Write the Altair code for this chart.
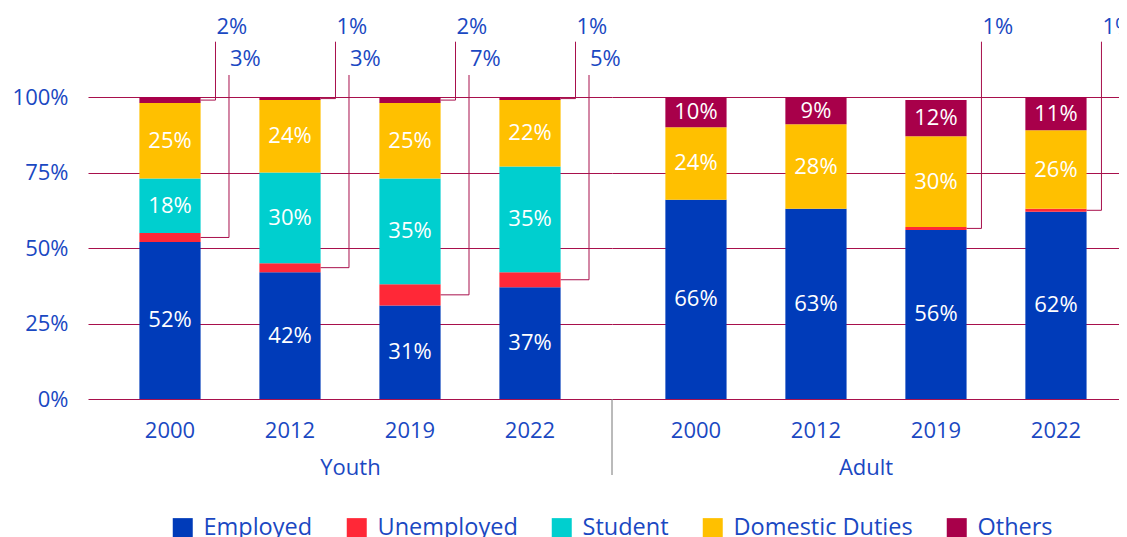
import altair as alt
import pandas as pd

# ---- data ----
groups = ["Youth", "Youth", "Youth", "Youth", "Adult", "Adult", "Adult", "Adult"]
years = ["2000", "2012", "2019", "2022", "2000", "2012", "2019", "2022"]
categories = ["Employed", "Unemployed", "Student", "Domestic Duties", "Others"]
employed = [52, 42, 31, 37, 66, 63, 56, 62]
unemployed = [3, 3, 7, 5, 0, 0, 1, 1]
student = [18, 30, 35, 35, 0, 0, 0, 0]
domestic = [25, 24, 25, 22, 24, 28, 30, 26]
others = [2, 1, 2, 1, 10, 9, 12, 11]
y_ticks = [0, 25, 50, 75, 100]
group_order = ["Youth", "Adult"]
year_order = ["2000", "2012", "2019", "2022"]

colors = ["#003BB9", "#FF2837", "#00CFCF", "#FFC000", "#A8004A"]
TEXT_BLUE = "#1A48C2"
GRID = "#A8104C"
FONT = "Open Sans"

series = [employed, unemployed, student, domestic, others]
rows = []
for ci, (cat, vals) in enumerate(zip(categories, series)):
    for g, y, v in zip(groups, years, vals):
        rows.append({"group": g, "year": y, "category": cat, "value": v, "order": ci})
df = pd.DataFrame(rows)

H = 391
YMAX = 129.5
BW = 61.2
HALF = BW / 2
y_scale = alt.Scale(domain=[0, YMAX], nice=False)
panel_cfg = {
    "Youth": dict(width=524, scale=alt.Scale(domain=year_order, paddingInner=0.49,
                                             paddingOuter=0.4283)),
    "Adult": dict(width=507, scale=alt.Scale(domain=year_order, paddingInner=0.49,
                                             paddingOuter=0.3575, align=0.622)),
}

# callout slots: (line distance from bar centre px, line top px, label centre px)
slots = [("A", 45.5, 33.7, 18.7), ("B", 59.0, 67.0, 51.2)]


def panel(group, first):
    cfg = panel_cfg[group]
    x_enc = alt.X("year:N", sort=year_order, scale=cfg["scale"], title=group,
                  axis=alt.Axis(labelPadding=21, titlePadding=16, labelAngle=0))
    base = alt.Chart(df).transform_filter(
        f"datum.group == '{group}'"
    ).transform_stack(
        stack="value", groupby=["year"], sort=[alt.SortField("order")], as_=["y0", "y1"]
    ).transform_calculate(
        mid="(datum.y0 + datum.y1) / 2",
        label="datum.value + '%'",
        slot="datum.group == 'Youth' ? (datum.category == 'Others' ? 'A' : (datum.category == 'Unemployed' ? 'B' : '')) : ((datum.category == 'Unemployed' && datum.value > 0) ? 'A' : '')",
    )
    y_axis = alt.Axis(values=y_ticks, labelExpr="datum.value + '%'", labelPadding=20,
                      grid=True, labels=first)
    bars = base.mark_bar().encode(
        x=x_enc,
        y=alt.Y("y0:Q", scale=y_scale, title=None, axis=y_axis),
        y2="y1:Q",
        color=alt.Color("category:N", sort=categories,
                        scale=alt.Scale(domain=categories, range=colors),
                        legend=alt.Legend(title=None, orient="none", direction="horizontal",
                                          legendX=83, legendY=508, symbolType="square",
                                          symbolSize=400, symbolStrokeWidth=0,
                                          symbolOpacity=1, labelFont=FONT,
                                          labelFontSize=23.5, labelColor=TEXT_BLUE,
                                          labelOffset=9, columnPadding=32, labelLimit=0)),
        order=alt.Order("order:Q"),
    )
    inside = base.transform_filter(
        "datum.value > 0 && datum.slot == '' && datum.category != 'Unemployed'"
    ).mark_text(color="white", font=FONT, fontSize=22, baseline="middle").encode(
        x=x_enc, y=alt.Y("mid:Q", scale=y_scale), text="label:N"
    )
    layers = [bars, inside]
    for slot, lx, top, lab in slots:
        sb = base.transform_filter(f"datum.slot == '{slot}'")
        vline = sb.mark_rule(color=GRID, strokeWidth=1, xOffset=lx).encode(
            x=x_enc, y=alt.Y("mid:Q", scale=y_scale), y2=alt.value(top)
        )
        hline = sb.mark_tick(color=GRID, thickness=1, orient="horizontal",
                             size=lx - HALF, xOffset=(lx + HALF) / 2, opacity=1).encode(
            x=x_enc, y=alt.Y("mid:Q", scale=y_scale)
        )
        txt = sb.mark_text(color=TEXT_BLUE, font=FONT, fontSize=22, align="left",
                           baseline="middle", dx=lx + 1, clip=not first).encode(
            x=x_enc, y=alt.value(lab), text="label:N"
        )
        layers += [vline, hline, txt]
    if not first:
        sep = alt.Chart(pd.DataFrame({"s": [0]})).mark_rule(
            color="#777777", strokeWidth=1
        ).encode(x=alt.value(0), y=alt.value(H), y2=alt.value(H + 76))
        layers.append(sep)
    return alt.layer(*layers).properties(width=cfg["width"], height=H)


chart = alt.hconcat(panel("Youth", True), panel("Adult", False), spacing=0,
                    bounds="flush").properties(
    padding={"left": 4, "top": 0, "right": 0, "bottom": 0},
).configure(font=FONT).configure_view(
    stroke="transparent", strokeWidth=0
).configure_axisY(
    labelFont=FONT, labelFontSize=22, labelColor=TEXT_BLUE, ticks=False,
    domain=False, gridColor=GRID, gridWidth=1, title=None,
).configure_axisX(
    labelFont=FONT, labelFontSize=22, labelColor=TEXT_BLUE, ticks=False, tickSize=0,
    domain=False, grid=False, titleFont=FONT, titleFontSize=22, titleColor=TEXT_BLUE,
    titleFontWeight="normal",
)

chart.save("out.html", embed_options={"renderer": "svg", "actions": False})
